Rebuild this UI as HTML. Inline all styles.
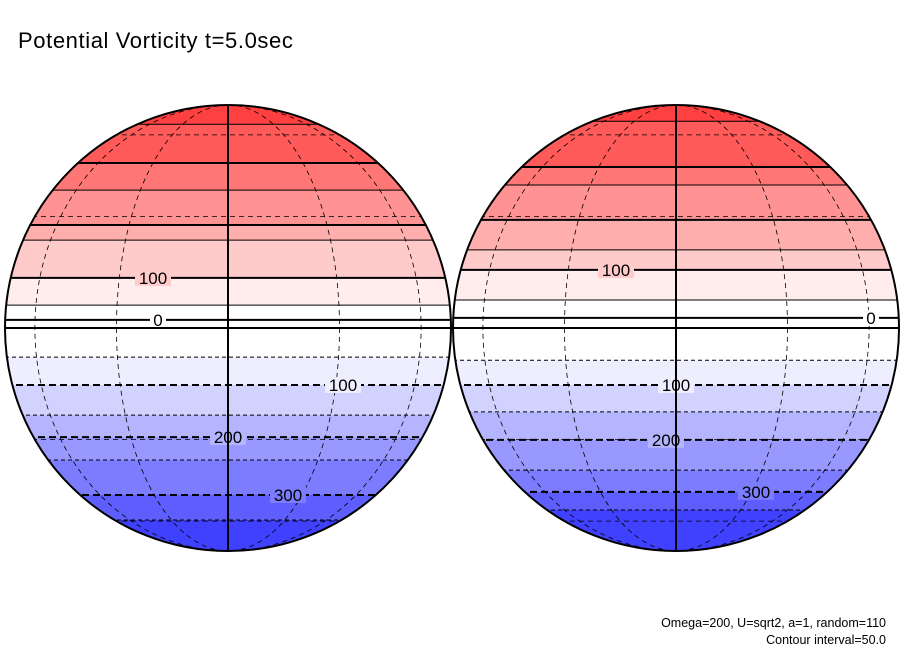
<!DOCTYPE html>
<html><head><meta charset="utf-8"><style>
html,body{margin:0;padding:0;background:#fff;}
svg{display:block;}
text{font-family:"Liberation Sans",sans-serif;}
</style></head><body>
<svg id="chart" width="904" height="654" viewBox="0 0 904 654" xmlns="http://www.w3.org/2000/svg">
<text x="18" y="48" font-size="22" letter-spacing="0.6" fill="#000">Potential Vorticity t=5.0sec</text>
<text x="886" y="627" font-size="12.5" text-anchor="end" font-family="Liberation Mono, monospace">Omega=200, U=sqrt2, a=1, random=110</text>
<text x="886" y="644" font-size="12.5" text-anchor="end" font-family="Liberation Mono, monospace">Contour interval=50.0</text>
<g id="globes"></g>
</svg>
<script>
// contour levels (PV) and their mean latitude (deg) on each hemisphere view
const levels = [350, 300, 250, 200, 150, 100, 50, 0, -50, -100, -150, -200, -250, -300, -350];
const latLeft = [66, 47.7, 38.2, 27.5, 23.2, 13.0, 5.9, 2.1, -7.5, -14.8, -23.0, -29.3, -36.3, -48.5, -59.4];
const latRight = [68, 46.2, 39.9, 29.0, 20.5, 15.1, 7.2, 2.6, -8.3, -14.8, -22.1, -30.1, -39.6, -47.3, -54.7];
const labelLevels = [100, 0, -100, -200, -300];
const labelXLeft = [-75, -70, 115, 0, 60];
const labelXRight = [-60, 195, 0, -10, 80];
const bandColors = ['#ff4040','#ff5a5a','#ff7676','#ff9292','#ffaeae','#ffcaca','#ffeded','#ffffff',
  '#ffffff','#eeeeff','#d2d2ff','#b4b4ff','#9898ff','#7c7cff','#5e5eff','#4040ff'];
const gridLats = [60, 30, -30, -60];
const gridLons = [-60, -30, 30, 60];

const NS = 'http://www.w3.org/2000/svg';
const R = 223, CY = 328;
const yOfLat = lat => CY - R * Math.sin(lat * Math.PI / 180);
function mk(tag, attrs, parent) {
  const e = document.createElementNS(NS, tag);
  for (const k in attrs) e.setAttribute(k, attrs[k]);
  parent.appendChild(e);
  return e;
}
const root = document.getElementById('globes');
function globe(cx, lats, lx, id) {
  const g = mk('g', {}, root);
  
  
  const defs = mk('defs', {}, g);
  const cp = mk('clipPath', {id: 'clip-' + id}, defs);
  mk('circle', {cx: cx, cy: CY, r: R}, cp);
  const inner = mk('g', {'clip-path': 'url(#clip-' + id + ')'}, g);
  for (let i = 0; i < bandColors.length; i++) {
    const yTop = i === 0 ? CY - R - 2 : yOfLat(lats[i - 1]);
    const yBot = i === lats.length ? CY + R + 2 : yOfLat(lats[i]);
    const b = mk('rect', {x: cx - R - 2, y: yTop, width: 2 * R + 4, height: yBot - yTop, fill: bandColors[i]}, inner);
    
    
  }
  gridLats.forEach(la => {
    const y = yOfLat(la);
    const l = mk('line', {x1: cx - R, x2: cx + R, y1: y, y2: y, stroke: '#000', 'stroke-width': 0.8, 'stroke-dasharray': '5,4'}, inner);
    
    
  });
  gridLons.forEach(lo => {
    const rx = Math.abs(R * Math.sin(lo * Math.PI / 180));
    const side = lo < 0 ? 0 : 1;
    const d = `M${cx} ${CY - R} A${rx} ${R} 0 0 ${side} ${cx} ${CY + R}`;
    const p = mk('path', {d: d, fill: 'none', stroke: '#000', 'stroke-width': 0.8, 'stroke-dasharray': '5,4'}, inner);
    
    
  });
  levels.forEach((lv, i) => {
    const y = yOfLat(lats[i]);
    const thick = lv % 100 === 0;
    const attrs = {x1: cx - R, x2: cx + R, y1: y, y2: y, stroke: '#000', 'stroke-width': thick ? 2 : 1};
    if (lv < 0) attrs['stroke-dasharray'] = thick ? '7,4' : '4,3';
    const l = mk('line', attrs, inner);
    
    
  });
  labelLevels.forEach((lv, j) => {
    const i = levels.indexOf(lv);
    const y = yOfLat(lats[i]);
    const x = cx + lx[j];
    const w = String(Math.abs(lv)).length * 10 + 6;
    mk('rect', {x: x - w / 2, y: y - 8, width: w, height: 16, fill: bandColors[i]}, inner);
    const t = mk('text', {x: x, y: y + 6, 'font-size': 17, 'text-anchor': 'middle', fill: '#000'}, inner);
    t.textContent = String(Math.abs(lv));
    
    
  });
  const v = mk('line', {x1: cx, x2: cx, y1: CY - R, y2: CY + R, stroke: '#000', 'stroke-width': 2}, g);
  
  
  const h = mk('line', {x1: cx - R, x2: cx + R, y1: CY, y2: CY, stroke: '#000', 'stroke-width': 2}, g);
  
  
  const c = mk('circle', {cx: cx, cy: CY, r: R, fill: 'none', stroke: '#000', 'stroke-width': 2}, g);
  
  
}
globe(228, latLeft, labelXLeft, 'left-hemisphere');
globe(676, latRight, labelXRight, 'right-hemisphere');
</script>
</body></html>
